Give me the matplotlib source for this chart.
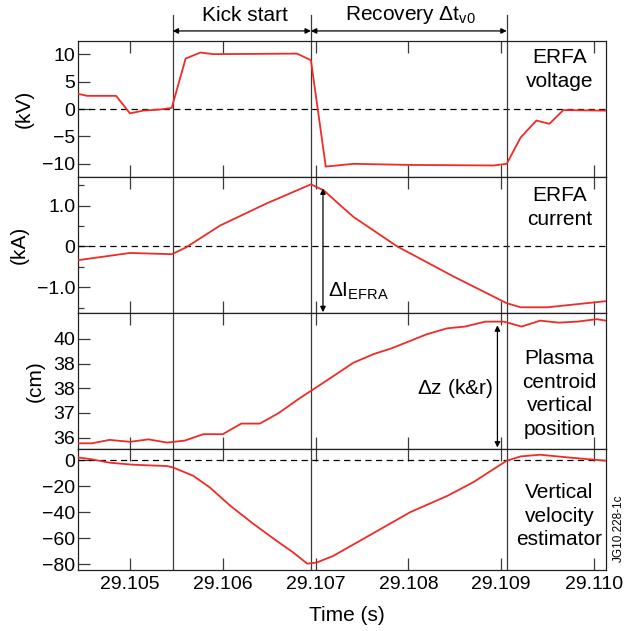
import matplotlib
matplotlib.use("Agg")
import matplotlib.pyplot as plt
from matplotlib.ticker import FixedLocator
import matplotlib.transforms as mtransforms

plt.rcParams['font.family'] = ['Liberation Sans', 'DejaVu Sans']
plt.rcParams['mathtext.fontset'] = 'custom'
plt.rcParams['mathtext.rm'] = 'Liberation Sans'
plt.rcParams['mathtext.it'] = 'Liberation Sans'

# ---------------- data ----------------
volt_t = [29.10443, 29.10454, 29.10485, 29.10500, 29.10514, 29.10532, 29.10545,
          29.10560, 29.10576, 29.10590, 29.10680, 29.10695, 29.10711, 29.10741,
          29.10802, 29.10892, 29.10906, 29.10921, 29.10938, 29.10952, 29.10967,
          29.11013]
volt_v = [2.8, 2.4, 2.4, -0.8, -0.3, -0.1, 0.2, 9.2, 10.3, 10.0, 10.1, 8.9,
          -10.5, -10.0, -10.2, -10.3, -10.0, -5.2, -2.1, -2.7, -0.2, -0.3]

curr_t = [29.10443, 29.10500, 29.10545, 29.10560, 29.10597, 29.10647, 29.10695,
          29.10709, 29.10727, 29.10741, 29.10788, 29.10849, 29.10906, 29.10921,
          29.10950, 29.11013]
curr_v = [-0.34, -0.16, -0.19, -0.03, 0.51, 1.05, 1.52, 1.37, 1.00, 0.72, 0.0,
          -0.74, -1.39, -1.49, -1.49, -1.34]

pos_t = [29.10443, 29.10459, 29.10478, 29.10500, 29.10520, 29.10540, 29.10559,
         29.10579, 29.10600, 29.10620, 29.10640, 29.10660, 29.10683, 29.10705,
         29.10741, 29.10763, 29.10782, 29.10820, 29.10842, 29.10861, 29.10883,
         29.10903, 29.10922, 29.10942, 29.10962, 29.10982, 29.11003, 29.11013]
pos_v = [35.77, 35.77, 35.91, 35.83, 35.93, 35.80, 35.88, 36.14, 36.14, 36.57,
         36.57, 36.99, 37.60, 38.14, 39.04, 39.39, 39.62, 40.19, 40.43, 40.50,
         40.70, 40.70, 40.50, 40.74, 40.66, 40.70, 40.80, 40.74]

vel_t = [29.10443, 29.10457, 29.10478, 29.10504, 29.10540, 29.10546, 29.10568,
         29.10586, 29.10608, 29.10633, 29.10658, 29.10676, 29.10691, 29.10701,
         29.10719, 29.10770, 29.10802, 29.10842, 29.10870, 29.10888, 29.10906,
         29.10921, 29.10942, 29.10971, 29.11013]
vel_v = [2.1, 0.8, -2.0, -3.6, -4.6, -5.6, -12, -21, -35, -49, -62, -71, -79.5,
         -78.7, -73.6, -53, -40, -27.5, -17, -8.7, -0.5, 2.8, 4.1, 2.1, -0.5]

markers = [29.10546, 29.10695, 29.10906]
x_ticks = [29.105, 29.106, 29.107, 29.108, 29.109, 29.110]
x_ticklabels = ['29.105', '29.106', '29.107', '29.108', '29.109', '29.110']

volt_ticks = [-10, -5, 0, 5, 10]
volt_labels = ['\u221210', '\u22125', '0', '5', '10']
curr_ticks = [-1.0, 0, 1.0]
curr_labels = ['\u22121.0', '0', '1.0']
pos_ticks = [36, 37, 38, 39, 40]
pos_labels = ['36', '37', '38', '38', '40']
vel_ticks = [-80, -60, -40, -20, 0]
vel_labels = ['\u221280', '\u221260', '\u221240', '\u221220', '0']

units = ['(kV)', '(kA)', '(cm)', None]
panel_titles = ['ERFA\nvoltage', 'ERFA\ncurrent',
                'Plasma\ncentroid\nvertical\nposition',
                'Vertical\nvelocity\nestimator']

# ---------------- figure ----------------
W, H = 628, 631
fig = plt.figure(figsize=(W / 100, H / 100), dpi=100)

left = 78 / W
width = (606 - 78) / W
rows = [(41, 177), (177, 313), (313, 449), (449, 570)]
axes = []
for (top, bot) in rows:
    ax = fig.add_axes([left, 1 - bot / H, width, (bot - top) / H])
    axes.append(ax)

red = '#f02a26'
grey = '#3a3a3a'
series = [(volt_t, volt_v), (curr_t, curr_v), (pos_t, pos_v), (vel_t, vel_v)]
ylims = [(-12.4, 12.4), (-1.63, 1.70), (35.54, 41.05), (-84.4, 8.5)]
yticks = [(volt_ticks, volt_labels), (curr_ticks, curr_labels),
          (pos_ticks, pos_labels), (vel_ticks, vel_labels)]
title_y = [0.79, 0.775, 0.405, 0.445]

for i, ax in enumerate(axes):
    t, v = series[i]
    ax.plot(t, v, color=red, lw=1.3, zorder=3)
    ax.set_xlim(29.10444, 29.11013)
    ax.set_ylim(*ylims[i])
    if i != 2:
        ax.axhline(0, color='black', lw=0.9, ls=(0, (5, 3.5)), zorder=2)
    for m in markers:
        ax.axvline(m, color=grey, lw=0.9, zorder=2)
    ax.set_xticks(x_ticks)
    if i == 3:
        ax.set_xticklabels(x_ticklabels)
    else:
        ax.set_xticklabels([])
    ax.set_yticks(yticks[i][0])
    ax.set_yticklabels(yticks[i][1])
    if i == 1:
        ax.yaxis.set_minor_locator(FixedLocator([-1.5, -0.5, 0.5, 1.5]))
    ax.tick_params(axis='both', which='major', direction='in', length=8.6,
                   width=0.9, color=grey, labelsize=14, pad=2)
    ax.tick_params(axis='x', which='major', top=True, pad=4.5)
    ax.tick_params(axis='y', which='minor', direction='in', length=4.3,
                   width=0.9, color=grey)
    for s in ax.spines.values():
        s.set_color('#222222')
        s.set_linewidth(0.9)
    ax.text(0.912, title_y[i], panel_titles[i], transform=ax.transAxes,
            ha='center', va='center', fontsize=15, linespacing=1.32)
    if units[i]:
        ax.set_ylabel(units[i], fontsize=15, labelpad=6)

axes[3].set_xlabel('Time (s)', fontsize=15, labelpad=9)
axes[3].xaxis.label.set_x(0.509)
fig.align_ylabels(axes)

# marker lines extending above top panel
ax0 = axes[0]
trans = mtransforms.blended_transform_factory(ax0.transData, ax0.transAxes)
for m in markers:
    ax0.plot([m, m], [1.0, 1.19], transform=trans, color=grey, lw=0.9,
             clip_on=False)

arr_y = 1.074
for (a, b) in [(markers[0], markers[1]), (markers[1], markers[2])]:
    ax0.annotate('', xy=(a, arr_y), xytext=(b, arr_y), xycoords=trans,
                 textcoords=trans,
                 arrowprops=dict(arrowstyle='<|-|>', color='black', lw=0.9,
                                 shrinkA=0, shrinkB=0, mutation_scale=8))
ax0.text((markers[0] + markers[1]) / 2 + 0.00003, 1.19, 'Kick start',
         transform=trans, ha='center', va='center', fontsize=15)
ax0.text((markers[1] + markers[2]) / 2 + 0.00002, 1.19,
         r'Recovery $\Delta$t$_{\mathrm{v0}}$',
         transform=trans, ha='center', va='center', fontsize=15)

# Delta I annotation
ax1 = axes[1]
ax1.annotate('', xy=(29.10708, 1.42), xytext=(29.10708, -1.61),
             arrowprops=dict(arrowstyle='<|-|>', color='black', lw=0.9,
                             shrinkA=0, shrinkB=0, mutation_scale=8))
ax1.text(29.10713, -1.10, r'$\Delta$I$_{\mathrm{EFRA}}$', ha='left',
         va='center', fontsize=15)

# Delta z annotation
ax2 = axes[2]
ax2.annotate('', xy=(29.10896, 40.55), xytext=(29.10896, 35.6),
             arrowprops=dict(arrowstyle='<|-|>', color='black', lw=0.9,
                             shrinkA=0, shrinkB=0, mutation_scale=8))
ax2.text(29.10891, 38.0, r'$\Delta$z (k&r)', ha='right', va='center',
         fontsize=15)

fig.text(619 / W, 1 - 528 / H, 'JG10.228-1c', rotation=90, ha='center',
         va='center', fontsize=8.5)

fig.savefig('out.png', dpi=100)
